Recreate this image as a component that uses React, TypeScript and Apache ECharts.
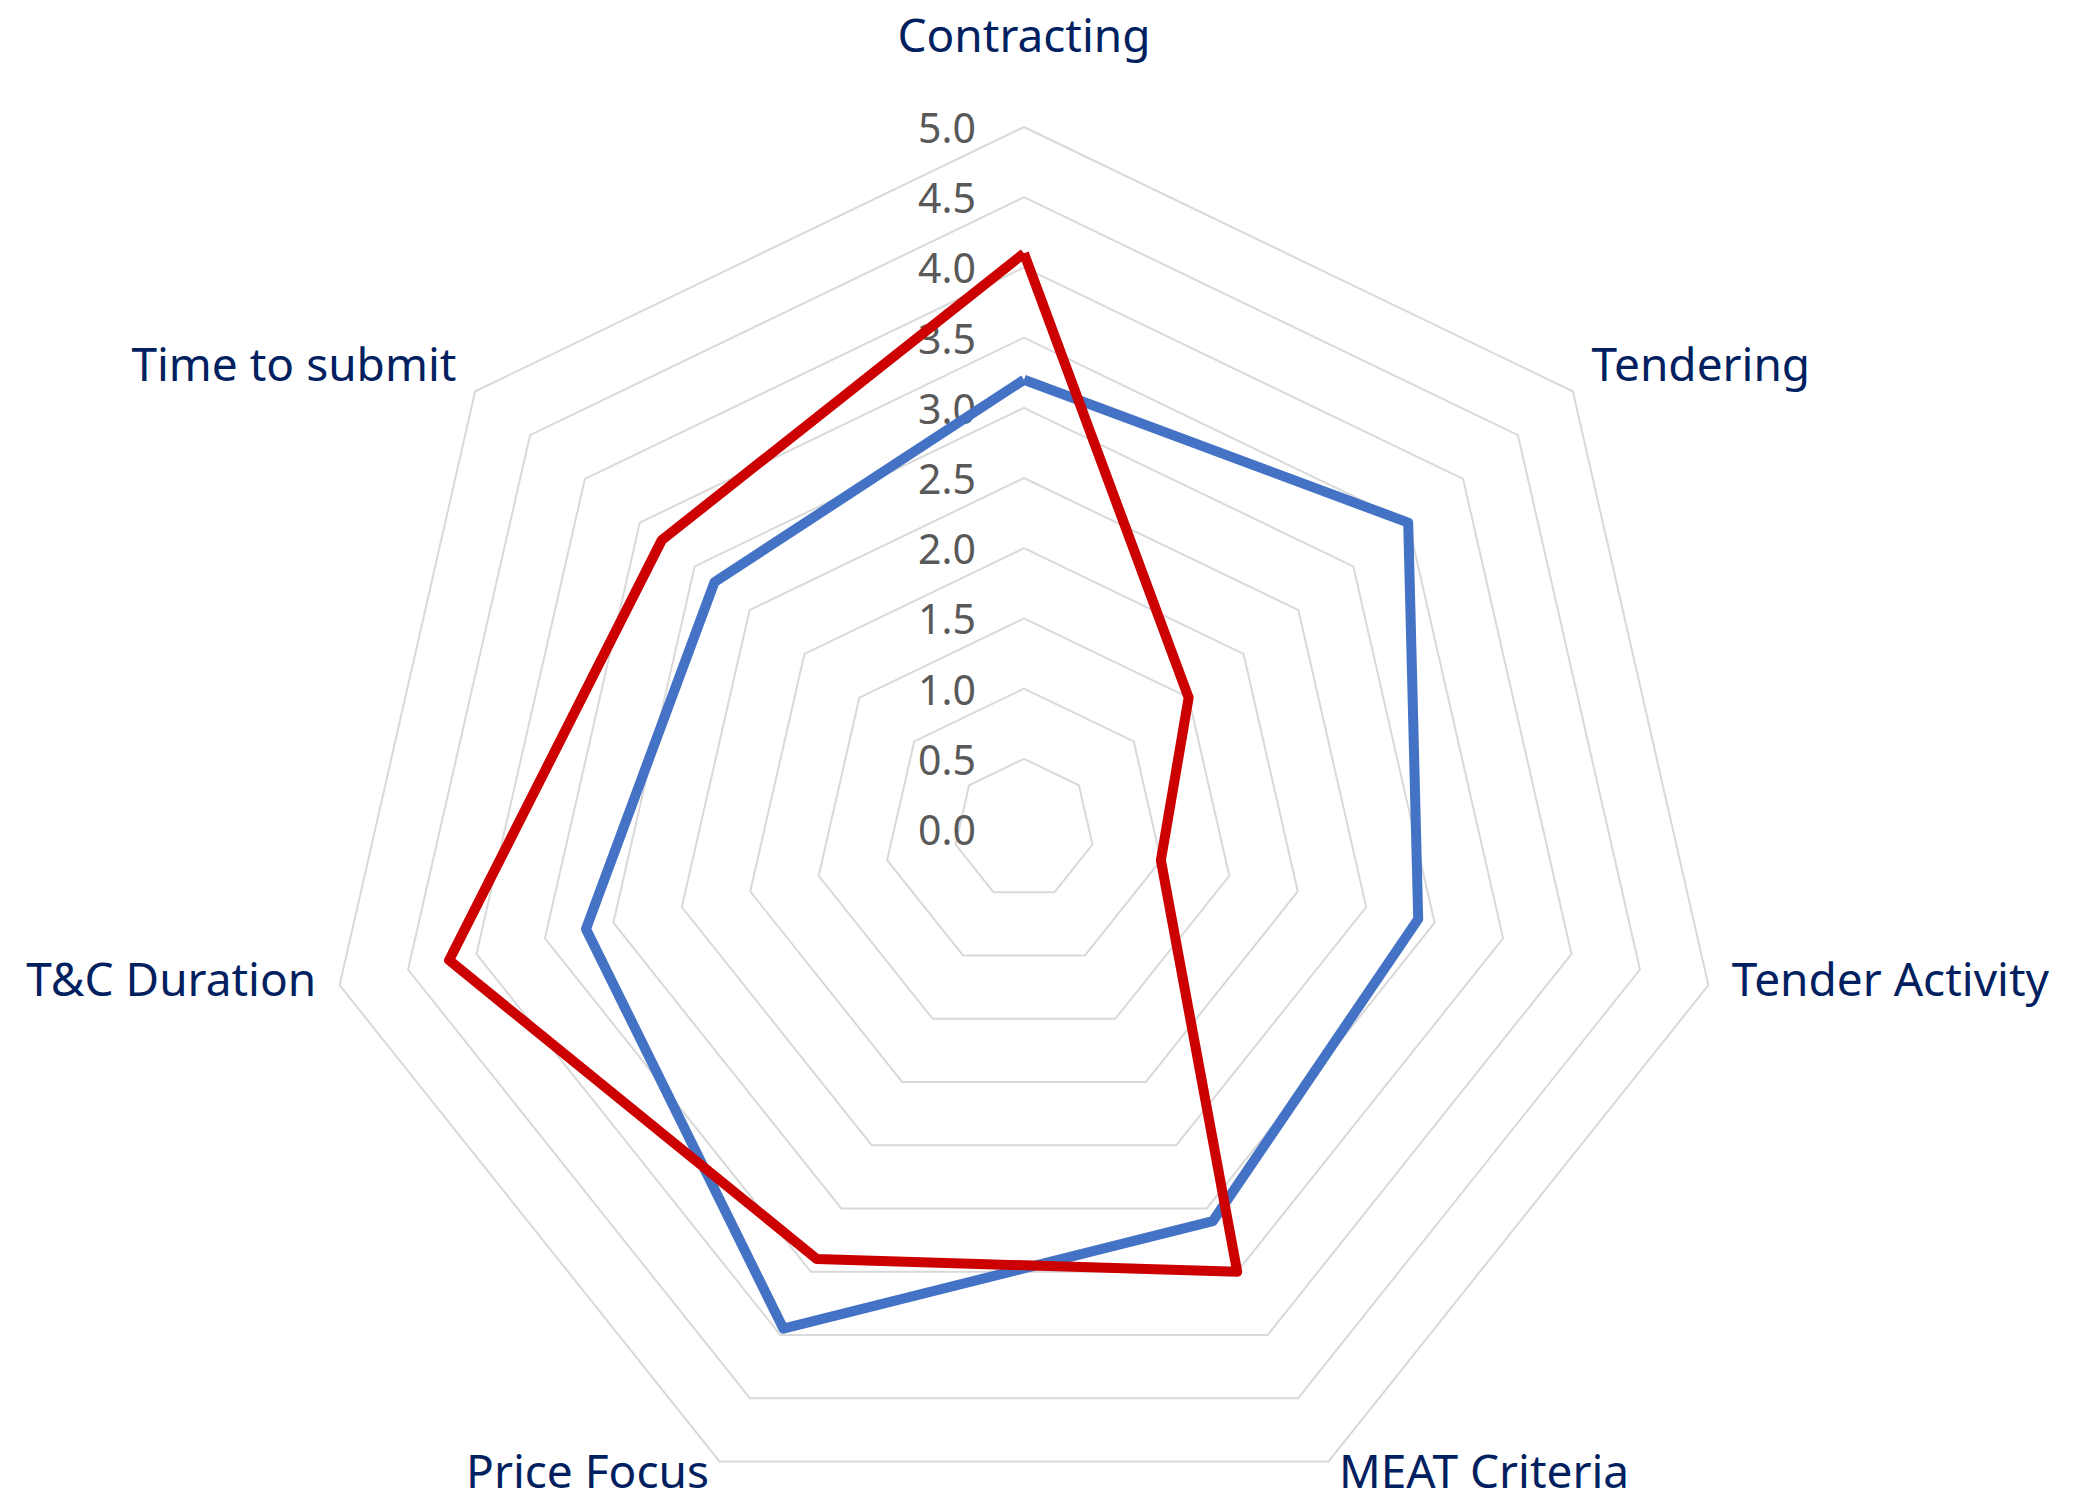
import React, { useEffect, useRef } from "react";
import * as echarts from "echarts";

// Axes in clockwise order starting at the top
const categories = [
  "Contracting",
  "Tendering",
  "Tender Activity",
  "MEAT Criteria",
  "Price Focus",
  "T&C Duration",
  "Time to submit",
];
const blueValues = [3.2, 3.5, 2.88, 3.1, 3.95, 3.2, 2.82];
const redValues = [4.1, 1.5, 1.0, 3.5, 3.4, 4.2, 3.3];
const axisMin = 0;
const axisMax = 5;
const axisSplits = 10;

// ECharts lays indicators out counter-clockwise; reorder to get clockwise.
const ccwOrder = [0, 6, 5, 4, 3, 2, 1];
const reorder = <T,>(arr: T[]) => ccwOrder.map((i) => arr[i]);

const LABEL_COLOR = "#002060";
const FONT = "'Noto Sans', 'Open Sans', sans-serif";

export default function App() {
  const ref = useRef<HTMLDivElement>(null);
  useEffect(() => {
    if (!ref.current) return;
    const chart = echarts.init(ref.current, undefined, { renderer: "svg" });
    const inds = reorder(categories).map((name, idx) => {
      const base: any = { name, min: axisMin, max: axisMax };
      if (idx === 0) {
        base.axisLabel = {
          show: true,
          color: "#595959",
          fontSize: 41,
          fontFamily: FONT,
          margin: 48,
          formatter: (v: number) => Number(v).toFixed(1),
        };
      }
      return base;
    });
    chart.setOption({
      animation: false,
      backgroundColor: "#ffffff",
      radar: {
        center: [1024, 829],
        radius: 702,
        startAngle: 90,
        shape: "polygon",
        splitNumber: axisSplits,
        indicator: inds,
        axisName: {
          color: LABEL_COLOR,
          fontSize: 46,
          fontFamily: FONT,
          formatter: (name: string) =>
            name === "Contracting" ? `{top|${name}}` : `{n|${name}}`,
          rich: {
            top: {
              color: LABEL_COLOR,
              fontSize: 46,
              fontFamily: FONT,
              padding: [0, 0, 46, 0],
            },
            n: {
              color: LABEL_COLOR,
              fontSize: 46,
              fontFamily: FONT,
              padding: [0, 0, 26, 0],
            },
          },
        },
        nameGap: 24,
        axisLine: { show: false },
        axisTick: { show: false },
        axisLabel: { show: false },
        splitArea: { show: false },
        splitLine: { lineStyle: { color: "#d9d9d9", width: 2 } },
      },
      series: [
        {
          type: "radar",
          symbol: "none",
          data: [
            {
              name: "Series 1",
              value: reorder(blueValues),
              lineStyle: { color: "#4472C4", width: 10 },
              itemStyle: { color: "#4472C4" },
            },
            {
              name: "Series 2",
              value: reorder(redValues),
              lineStyle: { color: "#CC0000", width: 10 },
              itemStyle: { color: "#CC0000" },
            },
          ],
        },
      ],
    });
    return () => chart.dispose();
  }, []);
  return (
    <div
      ref={ref}
      style={{
        position: "fixed",
        left: 0,
        top: 0,
        width: 2091,
        height: 1500,
        background: "#fff",
      }}
    />
  );
}
